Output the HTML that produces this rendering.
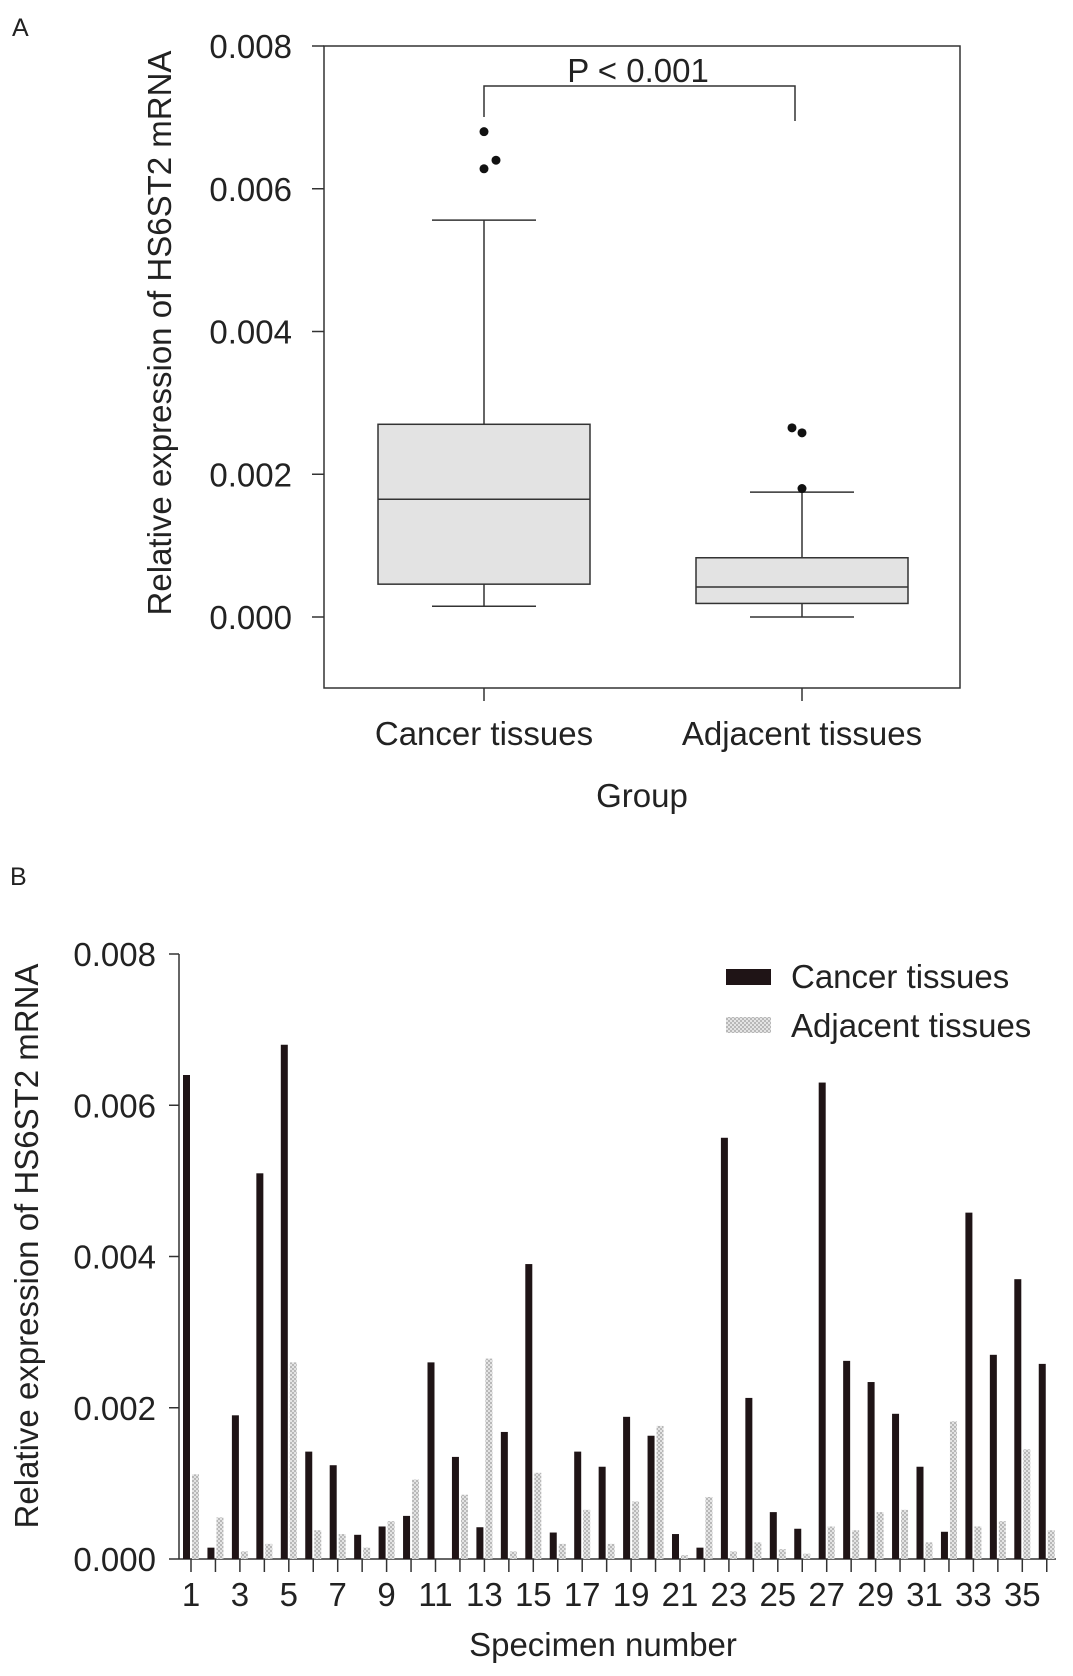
<!DOCTYPE html>
<html><head><meta charset="utf-8">
<style>
html,body{margin:0;padding:0;background:#fff;}
svg{display:block;font-family:"Liberation Sans",Arial,sans-serif;}
</style></head>
<body>
<svg id="fig" width="1073" height="1676" viewBox="0 0 1073 1676">
<defs>
<pattern id="hatch" width="4" height="4" patternUnits="userSpaceOnUse">
<rect width="4" height="4" fill="#e4e4e4"/>
<rect width="2" height="2" fill="#b8b8b8"/>
<rect x="2" y="2" width="2" height="2" fill="#b8b8b8"/>
</pattern>
</defs>
<g id="panelA"></g>
<g id="panelB"></g>
</svg>
<script>
// Panel A data (units of 0.001)
const groupsA = ["Cancer tissues", "Adjacent tissues"];
const boxLow = [0.15, 0.0];
const boxQ1 = [0.46, 0.19];
const boxMed = [1.65, 0.42];
const boxQ3 = [2.70, 0.83];
const boxHigh = [5.56, 1.75];
const outliersCancer = [6.8, 6.28, 6.4];
const outliersAdjacent = [2.65, 2.58, 1.8];
const yTicksA = ["0.000", "0.002", "0.004", "0.006", "0.008"];

// Panel B data (units of 0.001)
const specimens = [1,2,3,4,5,6,7,8,9,10,11,12,13,14,15,16,17,18,19,20,21,22,23,24,25,26,27,28,29,30,31,32,33,34,35,36];
const cancerVals = [6.4,0.15,1.9,5.1,6.8,1.42,1.24,0.32,0.43,0.57,2.6,1.35,0.42,1.68,3.9,0.35,1.42,1.22,1.88,1.63,0.33,0.15,5.57,2.13,0.62,0.4,6.3,2.62,2.34,1.92,1.22,0.36,4.58,2.7,3.7,2.58];
const adjacentVals = [1.12,0.55,0.1,0.2,2.6,0.38,0.33,0.15,0.5,1.05,0.0,0.85,2.65,0.1,1.14,0.2,0.65,0.2,0.76,1.76,0.05,0.82,0.1,0.22,0.13,0.07,0.43,0.38,0.62,0.65,0.22,1.82,0.43,0.5,1.45,0.38];
const yTicksB = ["0.000", "0.002", "0.004", "0.006", "0.008"];

const NS = "http://www.w3.org/2000/svg";
const FS = 33;
function mk(parent, tag, attrs, text) {
  const e = document.createElementNS(NS, tag);
  for (const k in attrs) e.setAttribute(k, attrs[k]);
  if (text !== undefined) e.textContent = text;
  parent.appendChild(e);
  return e;
}

// ---------- Panel A ----------
const A = document.getElementById('panelA');
const aY = v => 617 - v * (571 / 8);
const aX = i => [484, 802][i];
let t = mk(A, 'text', {x: 12, y: 36, 'font-size': 25, fill: '#222'}, 'A');


let r = mk(A, 'rect', {x: 324, y: 46, width: 636, height: 642, fill: 'none', stroke: '#333', 'stroke-width': 1.5});


yTicksA.forEach((lab, i) => {
  const y = aY(i * 2);
  mk(A, 'line', {x1: 312, x2: 324, y1: y, y2: y, stroke: '#333', 'stroke-width': 1.5});
  const tl = mk(A, 'text', {x: 292, y: y + 12, 'font-size': FS, 'text-anchor': 'end', fill: '#222'}, lab);
  
  
});
groupsA.forEach((g, i) => {
  const cx = aX(i);
  const half = 106, cap = 52;
  mk(A, 'line', {x1: cx, x2: cx, y1: 688, y2: 701, stroke: '#333', 'stroke-width': 1.5});
  const wl = mk(A, 'line', {x1: cx, x2: cx, y1: aY(boxHigh[i]), y2: aY(boxLow[i]), stroke: '#333', 'stroke-width': 1.5});
  
  
  mk(A, 'line', {x1: cx - cap, x2: cx + cap, y1: aY(boxHigh[i]), y2: aY(boxHigh[i]), stroke: '#333', 'stroke-width': 1.5});
  mk(A, 'line', {x1: cx - cap, x2: cx + cap, y1: aY(boxLow[i]), y2: aY(boxLow[i]), stroke: '#333', 'stroke-width': 1.5});
  const b = mk(A, 'rect', {x: cx - half, y: aY(boxQ3[i]), width: half * 2, height: aY(boxQ1[i]) - aY(boxQ3[i]), fill: '#e3e3e3', stroke: '#333', 'stroke-width': 1.5});
  
  
  mk(A, 'line', {x1: cx - half, x2: cx + half, y1: aY(boxMed[i]), y2: aY(boxMed[i]), stroke: '#333', 'stroke-width': 1.5});
  const xl = mk(A, 'text', {x: cx, y: 745, 'font-size': FS, 'text-anchor': 'middle', fill: '#222'}, g);
  
  
});
const offC = [0, 0, 12], offA = [-10, 0, 0];
outliersCancer.forEach((v, j) => {
  const c = mk(A, 'circle', {cx: aX(0) + offC[j], cy: aY(v), r: 4.5, fill: '#111'});
  
  
});
outliersAdjacent.forEach((v, j) => {
  const c = mk(A, 'circle', {cx: aX(1) + offA[j], cy: aY(v), r: 4.5, fill: '#111'});
  
  
});
const br = mk(A, 'polyline', {points: `${aX(0)},117 ${aX(0)},86 795,86 795,121`, fill: 'none', stroke: '#333', 'stroke-width': 1.5});


t = mk(A, 'text', {x: 638, y: 82, 'font-size': FS, 'text-anchor': 'middle', fill: '#222'}, 'P < 0.001');


t = mk(A, 'text', {x: 642, y: 807, 'font-size': FS, 'text-anchor': 'middle', fill: '#222'}, 'Group');


t = mk(A, 'text', {x: 0, y: 0, 'font-size': FS, 'text-anchor': 'middle', fill: '#222', transform: 'translate(171,333) rotate(-90)'}, 'Relative expression of HS6ST2 mRNA');



// ---------- Panel B ----------
const B = document.getElementById('panelB');
const bY = v => 1559 - v * (605 / 8);
const bX = i => 191 + i * 24.45;
t = mk(B, 'text', {x: 10, y: 885, 'font-size': 25, fill: '#222'}, 'B');


mk(B, 'line', {x1: 179, x2: 179, y1: bY(8), y2: 1559, stroke: '#333', 'stroke-width': 1.5});
mk(B, 'line', {x1: 179, x2: 1056, y1: 1559, y2: 1559, stroke: '#333', 'stroke-width': 1.5});
yTicksB.forEach((lab, i) => {
  const y = bY(i * 2);
  mk(B, 'line', {x1: 169, x2: 179, y1: y, y2: y, stroke: '#333', 'stroke-width': 1.5});
  const tl = mk(B, 'text', {x: 156, y: y + 12, 'font-size': FS, 'text-anchor': 'end', fill: '#222'}, lab);
  
  
});
specimens.forEach((s, i) => {
  const tx = bX(i);
  mk(B, 'line', {x1: tx, x2: tx, y1: 1559, y2: 1572, stroke: '#333', 'stroke-width': 1.5});
  const cb = mk(B, 'rect', {x: tx - 8, y: bY(cancerVals[i]), width: 7, height: 1559 - bY(cancerVals[i]), fill: '#1f1416'});
  
  
  const ab = mk(B, 'rect', {x: tx + 1, y: bY(adjacentVals[i]), width: 7, height: 1559 - bY(adjacentVals[i]), fill: 'url(#hatch)'});
  
  
  if (s % 2 === 1) {
    const xl = mk(B, 'text', {x: tx, y: 1606, 'font-size': FS, 'text-anchor': 'middle', fill: '#222'}, String(s));
    
    
  }
});
t = mk(B, 'text', {x: 603, y: 1656, 'font-size': FS, 'text-anchor': 'middle', fill: '#222'}, 'Specimen number');


t = mk(B, 'text', {x: 0, y: 0, 'font-size': FS, 'text-anchor': 'middle', fill: '#222', transform: 'translate(38,1246) rotate(-90)'}, 'Relative expression of HS6ST2 mRNA');


// legend
let lg = mk(B, 'g', {});


let le = mk(lg, 'rect', {x: 726, y: 969, width: 45, height: 16, fill: '#1f1416'});


t = mk(lg, 'text', {x: 791, y: 988, 'font-size': FS, fill: '#222'}, 'Cancer tissues');


le = mk(lg, 'rect', {x: 726, y: 1017, width: 45, height: 16, fill: 'url(#hatch)'});


t = mk(lg, 'text', {x: 791, y: 1037, 'font-size': FS, fill: '#222'}, 'Adjacent tissues');


</script>
</body></html>
